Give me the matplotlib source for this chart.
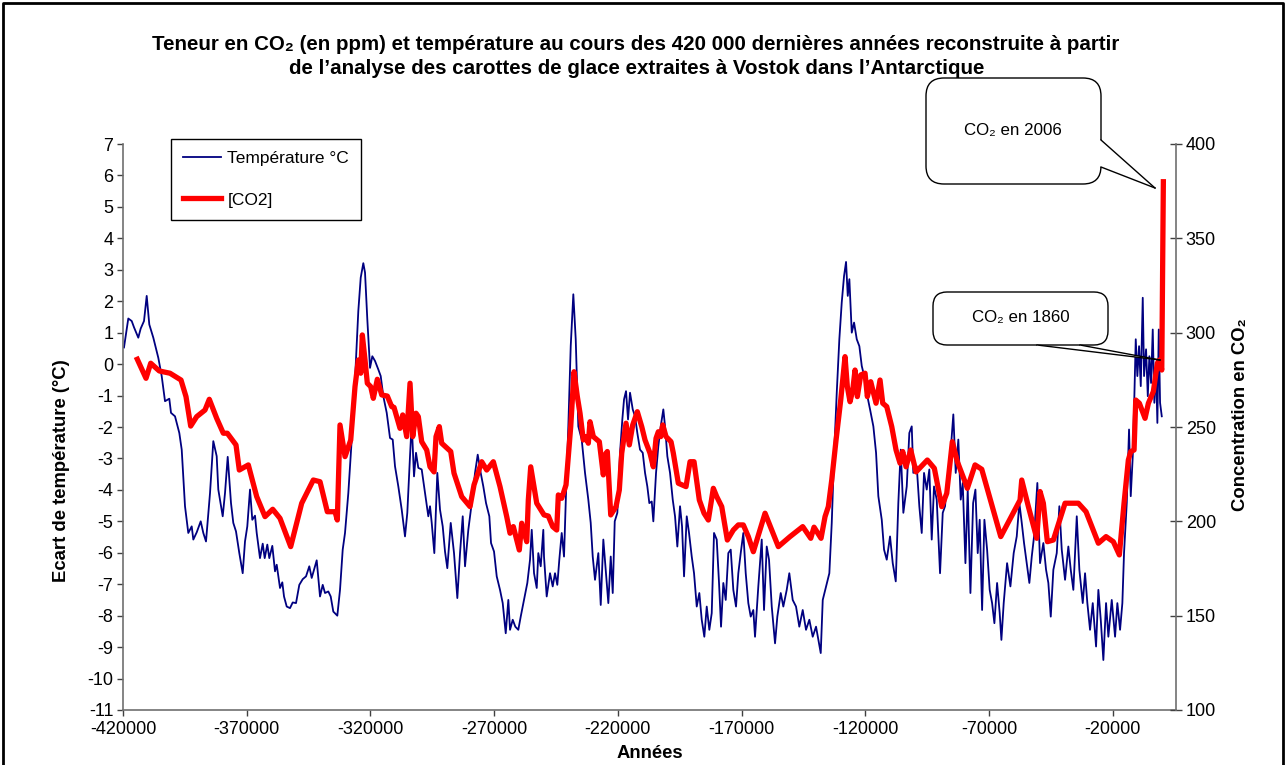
import matplotlib
matplotlib.use('Agg')
import matplotlib.pyplot as plt
from matplotlib.patches import FancyBboxPatch, Polygon
from matplotlib.lines import Line2D
from matplotlib.transforms import IdentityTransform

plt.rcParams['font.family'] = ['Liberation Sans', 'DejaVu Sans']
plt.rcParams['axes.unicode_minus'] = False

# Vostok : température (écart en °C)
temp_years = [
    -419600, -417860, -416480, -415550, -413820, -412850, -411510, -410420, -409370, -407750,
    -405730, -404360, -403020, -401290, -400600, -398980, -397240, -396270, -394940, -393610,
    -392230, -391580, -390210, -388590, -387540, -386450, -384830, -383500, -382130, -381480,
    -379700, -378770, -377680, -376350, -375420, -374330, -372990, -371620, -370690, -369760,
    -368670, -367740, -366650, -365960, -364630, -363530, -362730, -361670, -360870, -359650,
    -358560, -357870, -356540, -355610, -354920, -353830, -352500, -351410, -350070, -348740,
    -347370, -346030, -344700, -343730, -341710, -340370, -339280, -338350, -337020, -336050,
    -335000, -333380, -332290, -331200, -330270, -328930, -327560, -326220, -324890, -323920,
    -322870, -322180, -321250, -320160, -319230, -318140, -316810, -315840, -314790, -313410,
    -312080, -310990, -310060, -308720, -307350, -306020, -305090, -304000, -303310, -302380,
    -301570, -300640, -299270, -297930, -296600, -295910, -295220, -294170, -292960, -291870,
    -290780, -289850, -288920, -287540, -286210, -284870, -283780, -282690, -281760, -280430,
    -279050, -277720, -276630, -275420, -274370, -273270, -271940, -271250, -270040, -268950,
    -267620, -266530, -265310, -264260, -263570, -262480, -261430, -260220, -259250, -257920,
    -256580, -255490, -254800, -253870, -252780, -252140, -251170, -250120, -249840, -248750,
    -247410, -246320, -245390, -244460, -243650, -242680, -241750, -240940, -240010, -239040,
    -237990, -237020, -235970, -234600, -233260, -231930, -230960, -230150, -229220, -227880,
    -226910, -225860, -224770, -223840, -222870, -222060, -221250, -220200, -219110, -218180,
    -217490, -216690, -215880, -215070, -213980, -213050, -212120, -211030, -209940, -209000,
    -208080, -207270, -206300, -205650, -204560, -203630, -202660, -201610, -200920, -199990,
    -198900, -197810, -196880, -195950, -194860, -194050, -193240, -192150, -191220, -190130,
    -189200, -188110, -187060, -186090, -185040, -184070, -183020, -182050, -181120, -180030,
    -179100, -178290, -177360, -176390, -175340, -174370, -173320, -172230, -171300, -170330,
    -169280, -168310, -167260, -166290, -165240, -164550, -163220, -161840, -160910, -159820,
    -158890, -157790, -156460, -155530, -154160, -153110, -151740, -150690, -149320, -147980,
    -146650, -145270, -143940, -142600, -141230, -139890, -138960, -137990, -137180, -135850,
    -134510, -133540, -132610, -131520, -130470, -129500, -128570, -127760, -127070, -126420,
    -125450, -124520, -123430, -122380, -121410, -120070, -119150, -118060, -116720, -115630,
    -114710, -113330, -112400, -111310, -109980, -108890, -107670, -106630, -105660, -104600,
    -103230, -102180, -101210, -100570, -99190, -98140, -97170, -96240, -95150, -94100,
    -93130, -92200, -91110, -89770, -88680, -87750, -86820, -85730, -84400, -83430,
    -82380, -81410, -80600, -79510, -78580, -77490, -76400, -75470, -74540, -73740,
    -72770, -71840, -70750, -69700, -68730, -67800, -66710, -65660, -64970, -64040,
    -62670, -61330, -60000, -58770, -57710, -56740, -55820, -54720, -53670, -52700,
    -51770, -50440, -49350, -48010, -46920, -45990, -45020, -43970, -42600, -41550,
    -40580, -39240, -37910, -36940, -35890, -34510, -33460, -32090, -31160, -30230,
    -29140, -28050, -26710, -25780, -24810, -23760, -22670, -21740, -20370, -19030,
    -18100, -17010, -16080, -15400, -14300, -13380, -12690, -11880, -11230, -10670,
    -10020, -9330, -8640, -7840, -7310, -6500, -5800, -5170, -4480, -3800,
    -3150, -2460, -1930, -1370, -840, -150,
]
temp_values = [
    0.53, 1.45, 1.37, 1.17, 0.84, 1.13, 1.37, 2.17, 1.26, 0.84,
    0.2, -0.38, -1.18, -1.1, -1.55, -1.66, -2.19, -2.72, -4.52, -5.37,
    -5.16, -5.58, -5.35, -5.0, -5.37, -5.64, -4.1, -2.45, -2.93, -3.99,
    -4.84, -4.1, -2.95, -4.42, -5.05, -5.32, -6.01, -6.65, -5.64, -5.16,
    -3.99, -4.95, -4.82, -5.37, -6.17, -5.71, -6.17, -5.74, -6.17, -5.78,
    -6.59, -6.38, -7.12, -6.94, -7.39, -7.71, -7.76, -7.58, -7.6, -7.02,
    -6.84, -6.75, -6.43, -6.8, -6.24, -7.39, -7.02, -7.28, -7.23, -7.39,
    -7.87, -8.0, -7.18, -5.9, -5.37, -4.1, -2.4, -0.49, 1.69, 2.75,
    3.21, 2.91, 1.42, -0.12, 0.25, 0.1, -0.17, -0.38, -1.02, -1.55,
    -2.35, -2.4, -3.25, -3.89, -4.63, -5.48, -4.73, -2.93, -1.87, -3.57,
    -2.82, -3.3, -3.35, -4.1, -4.84, -4.52, -5.05, -6.01, -3.46, -4.63,
    -5.16, -5.96, -6.49, -5.05, -6.01, -7.44, -6.01, -4.84, -6.43, -5.27,
    -4.42, -3.46, -2.88, -3.46, -3.89, -4.42, -4.84, -5.69, -5.96, -6.75,
    -7.18, -7.6, -8.56, -7.5, -8.45, -8.13, -8.35, -8.45, -8.03, -7.5,
    -6.96, -6.22, -5.27, -6.65, -7.12, -6.01, -6.43, -5.27, -6.12, -7.39,
    -6.65, -7.07, -6.65, -7.02, -6.22, -5.37, -6.12, -4.1, -1.98, 0.57,
    2.22, 0.79, -1.98, -2.4, -3.46, -4.31, -5.05, -6.12, -6.86, -6.01,
    -7.66, -5.58, -6.65, -7.6, -6.12, -7.28, -5.0, -4.73, -2.82, -1.76,
    -1.12, -0.86, -1.76, -0.91, -1.44, -1.66, -2.19, -2.72, -2.82, -3.46,
    -3.89, -4.42, -4.37, -5.0, -3.46, -2.61, -1.98, -1.44, -1.98, -2.93,
    -3.46, -4.31, -4.84, -5.8, -4.52, -5.16, -6.75, -4.84, -5.37, -6.12,
    -6.65, -7.71, -7.28, -8.13, -8.67, -7.71, -8.45, -7.92, -5.37, -5.58,
    -6.96, -8.35, -6.96, -7.5, -6.01, -5.9, -7.18, -7.71, -6.65, -6.01,
    -5.37, -6.65, -7.6, -8.03, -7.82, -8.67, -7.07, -5.58, -7.82, -5.8,
    -6.22, -7.71, -8.88, -8.03, -7.28, -7.71, -7.18, -6.65, -7.5, -7.71,
    -8.35, -7.82, -8.45, -8.13, -8.67, -8.35, -8.77, -9.19, -7.5, -7.07,
    -6.65, -5.05, -2.93, -0.91, 0.79, 1.96, 2.8, 3.25, 2.17, 2.7,
    1.0, 1.32, 0.79, 0.57, -0.06, -0.49, -1.02, -1.44, -1.98, -2.82,
    -4.2, -4.95, -5.9, -6.22, -5.48, -6.33, -6.91, -4.42, -2.72, -4.73,
    -3.89, -2.19, -1.98, -3.46, -3.25, -4.52, -5.37, -3.46, -3.99, -3.35,
    -5.58, -3.89, -4.31, -6.65, -4.73, -4.52, -3.67, -3.04, -1.6, -3.46,
    -2.4, -4.31, -3.78, -6.33, -3.99, -7.28, -4.42, -3.99, -6.01, -4.95,
    -7.82, -4.95, -5.9, -7.18, -7.6, -8.24, -6.96, -7.92, -8.77, -7.6,
    -6.33, -7.07, -6.01, -5.48, -4.42, -5.05, -5.69, -6.33, -6.96, -6.12,
    -5.48, -3.78, -6.33, -5.69, -6.54, -6.96, -8.03, -6.54, -6.01, -4.52,
    -5.9, -6.86, -5.8, -6.54, -7.18, -4.84, -6.54, -7.6, -6.65, -7.6,
    -8.45, -7.6, -8.98, -7.18, -8.13, -9.41, -7.6, -8.67, -7.5, -8.67,
    -7.6, -8.45, -7.6, -6.0, -4.41, -2.08, -4.2, -2.93, -1.02, 0.79,
    -0.38, 0.57, -0.7, 2.11, -0.38, 0.47, -1.02, 0.25, -0.6, 1.1,
    -1.23, -0.17, -1.87, 1.1, -1.23, -1.66,
]

# Vostok : CO2 (ppm), dernier point = 2006
co2_years = [
    -414220, -410700, -408800, -405330, -401000, -396560, -394540, -392640, -390210, -386860,
    -385120, -382130, -379460, -377840, -374330, -372990, -369350, -365960, -362600, -359490,
    -356540, -352220, -347770, -343080, -340370, -337420, -334310, -333380, -332290, -330270,
    -327960, -326230, -324890, -323920, -323270, -322180, -321250, -319880, -318830, -317210,
    -315430, -313170, -311390, -310460, -308040, -306950, -305330, -303990, -302900, -301570,
    -300640, -299270, -297240, -295910, -294290, -293490, -292150, -291180, -287540, -286210,
    -283100, -279740, -278130, -275010, -272990, -270320, -267620, -264910, -263570, -262240,
    -259820, -258850, -256820, -256180, -255210, -252780, -249830, -248090, -246320, -244700,
    -244050, -242680, -240940, -239040, -237710, -236370, -235280, -233950, -232860, -231930,
    -231240, -229900, -227480, -225860, -225180, -224250, -222870, -220730, -219400, -218430,
    -216690, -215350, -213980, -212120, -210340, -209010, -206990, -205650, -204560, -203630,
    -202660, -201850, -200520, -198500, -197570, -195550, -192440, -190820, -189200, -187060,
    -185160, -183420, -181400, -180030, -178010, -175740, -173320, -171300, -169280, -167260,
    -165230, -160500, -155130, -150400, -145270, -142030, -140700, -137870, -136250, -134920,
    -133540, -131800, -129910, -128170, -127240, -126150, -125050, -124130, -123200, -121820,
    -120080, -119150, -117780, -115640, -114020, -112930, -111310, -109290, -107550, -105940,
    -104850, -103510, -101610, -99470, -94900, -92070, -89080, -87060, -84800, -82770,
    -79950, -78730, -75620, -72910, -65230, -57430, -56750, -54060, -50680, -49350,
    -48010, -46400, -43970, -39240, -33870, -30760, -25780, -22670, -19720, -17300,
    -15400, -13660, -12690, -11350, -10670, -9210, -6910, -5560, -3550, -1940,
    -1130, -150, 490,
]
co2_values = [
    285.9, 275.8, 283.8, 279.7, 278.5, 274.9, 266.1, 250.5, 255.5, 259.0,
    264.7, 254.6, 246.7, 246.7, 240.5, 227.2, 229.9, 213.1, 202.5, 206.4,
    201.6, 186.6, 209.6, 221.9, 221.0, 205.1, 205.1, 200.7, 251.1, 234.3,
    243.1, 271.4, 285.5, 278.5, 298.8, 285.5, 273.2, 271.4, 265.2, 275.3,
    267.0, 266.4, 260.8, 260.4, 249.3, 256.4, 244.9, 273.2, 244.9, 257.3,
    255.5, 242.2, 237.8, 228.9, 226.2, 244.9, 250.2, 241.4, 237.0, 225.5,
    213.1, 207.8, 219.3, 231.6, 227.2, 231.6, 218.4, 202.5, 193.7, 197.2,
    184.8, 199.0, 189.2, 211.3, 228.9, 209.6, 203.4, 202.8, 197.2, 195.4,
    214.0, 212.2, 219.3, 250.2, 279.3, 266.1, 257.3, 243.1, 244.9, 241.4,
    252.8, 244.9, 242.2, 224.6, 235.2, 237.0, 203.4, 207.8, 216.6, 236.1,
    252.0, 240.5, 251.1, 258.1, 250.2, 243.1, 236.1, 228.9, 244.0, 247.5,
    244.9, 251.1, 244.9, 242.2, 236.1, 220.2, 218.4, 231.6, 231.6, 211.3,
    204.3, 200.7, 217.5, 213.1, 207.8, 190.1, 195.4, 198.1, 198.1, 191.9,
    183.9, 204.3, 186.6, 191.9, 197.2, 191.0, 196.9, 191.0, 202.5, 207.8,
    221.9, 243.1, 264.3, 287.3, 271.4, 263.4, 269.6, 280.2, 266.1, 277.6,
    278.5, 266.1, 274.0, 262.6, 274.9, 262.6, 260.8, 250.2, 237.8, 230.8,
    237.0, 228.9, 237.8, 226.2, 232.5, 228.1, 207.8, 214.9, 242.2, 231.6,
    221.9, 217.5, 229.9, 227.6, 191.9, 211.3, 221.9, 207.8, 191.0, 215.8,
    209.6, 189.2, 190.1, 209.6, 209.6, 205.1, 188.4, 191.9, 189.2, 182.2,
    209.6, 232.5, 237.0, 237.8, 264.3, 262.6, 254.6, 262.6, 268.8, 283.8,
    285.5, 280.2, 380.0,
]

x_ticks = list(range(-420000, 0, 50000))
temp_ticks = list(range(-11, 8))
co2_ticks = list(range(100, 401, 50))

title_1 = 'Teneur en CO\u2082 (en ppm) et température au cours des 420 000 dernières années reconstruite à partir'
title_2 = 'de l\u2019analyse des carottes de glace extraites à Vostok dans l\u2019Antarctique'

W, H = 1287, 765
fig = plt.figure(figsize=(W / 100, H / 100), dpi=100)
fig.patch.set_facecolor('white')

# axes placées au pixel près
ax = fig.add_axes([123 / W, 1 - 710 / H, (1176 - 123) / W, (710 - 144) / H])
ax2 = ax.twinx()

l_temp, = ax.plot(temp_years, temp_values, color='#000080', lw=1.3, label='Température °C')
l_co2, = ax2.plot(co2_years, co2_values, color='#FF0000', lw=3.8, solid_joinstyle='round',
                  label='[CO2]')

ax.set_xlim(-420000, 5600)
ax.set_ylim(-11, 7)
ax2.set_ylim(100, 400)

axis_col = '#707070'
ax.set_xticks(x_ticks)
ax.set_xticklabels([str(v) for v in x_ticks])
ax.set_yticks(temp_ticks)
ax.set_yticklabels([str(v) for v in temp_ticks])
ax2.set_yticks(co2_ticks)
ax2.set_yticklabels([str(v) for v in co2_ticks])

for a in (ax, ax2):
    for s in a.spines.values():
        s.set_visible(False)
ax.spines['left'].set_visible(True)
ax.spines['bottom'].set_visible(True)
ax2.spines['right'].set_visible(True)
for s in (ax.spines['left'], ax.spines['bottom'], ax2.spines['right']):
    s.set_color(axis_col)
    s.set_linewidth(1.2)

ax.tick_params(axis='both', direction='out', length=4, width=1, color='#404040',
               labelsize=13, pad=3)
ax.tick_params(axis='x', pad=4)
ax2.tick_params(axis='y', direction='inout', length=8, width=1, color='#404040',
                labelsize=13, pad=3)

# titres / labels
fig.text(636 / W, 1 - 45 / H, title_1, ha='center', va='center', fontsize=14.8, fontweight='bold')
fig.text(637 / W, 1 - 68 / H, title_2, ha='center', va='center', fontsize=14.8, fontweight='bold')
fig.text(62 / W, 1 - 471 / H, 'Ecart de température (°C)', rotation=90, ha='center', va='center',
         fontsize=13.3, fontweight='bold')
fig.text(1240 / W, 1 - 415 / H, 'Concentration en CO\u2082', rotation=90, ha='center', va='center',
         fontsize=13.3, fontweight='bold')
fig.text(650 / W, 1 - 754 / H, 'Années', ha='center', va='center', fontsize=13.3, fontweight='bold')

leg = fig.legend(handles=[l_temp, l_co2], loc='upper left',
                 bbox_to_anchor=(171 / W, 1 - 139 / H), borderaxespad=0, fancybox=False,
                 framealpha=1, edgecolor='black', fontsize=12.5, handlelength=2.2,
                 handletextpad=0.35, labelspacing=1.5, borderpad=0.7)
leg.get_frame().set_linewidth(1.0)


# bulles (coordonnées en pixels depuis le haut)
def callout(box, base1, base2, inward, tip, text, tpos, r):
    x0, y0, x1, y1 = box
    p = FancyBboxPatch((x0, H - y1), x1 - x0, y1 - y0,
                       boxstyle='round,pad=0,rounding_size=%d' % r,
                       transform=IdentityTransform(), fc='white', ec='black', lw=1.0, zorder=5)
    fig.add_artist(p)
    dx, dy = inward
    pts = [(base1[0] + dx, H - base1[1] - dy), (base1[0], H - base1[1]), (tip[0], H - tip[1]),
           (base2[0], H - base2[1]), (base2[0] + dx, H - base2[1] - dy)]
    fig.add_artist(Polygon(pts, closed=True, fc='white', ec='none', transform=IdentityTransform(),
                           zorder=6))
    for b in (base1, base2):
        fig.add_artist(Line2D([b[0], tip[0]], [H - b[1], H - tip[1]], color='black', lw=1.0,
                              transform=IdentityTransform(), zorder=7))
    fig.text(tpos[0] / W, 1 - tpos[1] / H, text, ha='center', va='center', fontsize=12.2,
             zorder=8)


callout((926, 78, 1101, 184), (1101, 140), (1101, 167), (-4, 0), (1155, 188),
        'CO\u2082 en 2006', (1013, 130), 18)
callout((933, 292, 1108, 345), (1037, 345), (1080, 345), (0, 4), (1160, 360),
        'CO\u2082 en 1860', (1021, 317), 14)

# cadre extérieur
fig.add_artist(Line2D([3, 3, 1283, 1283], [0, H - 3, H - 3, 0], color='black', lw=2,
                      transform=IdentityTransform(), zorder=10))

fig.savefig('out.png', dpi=100)
